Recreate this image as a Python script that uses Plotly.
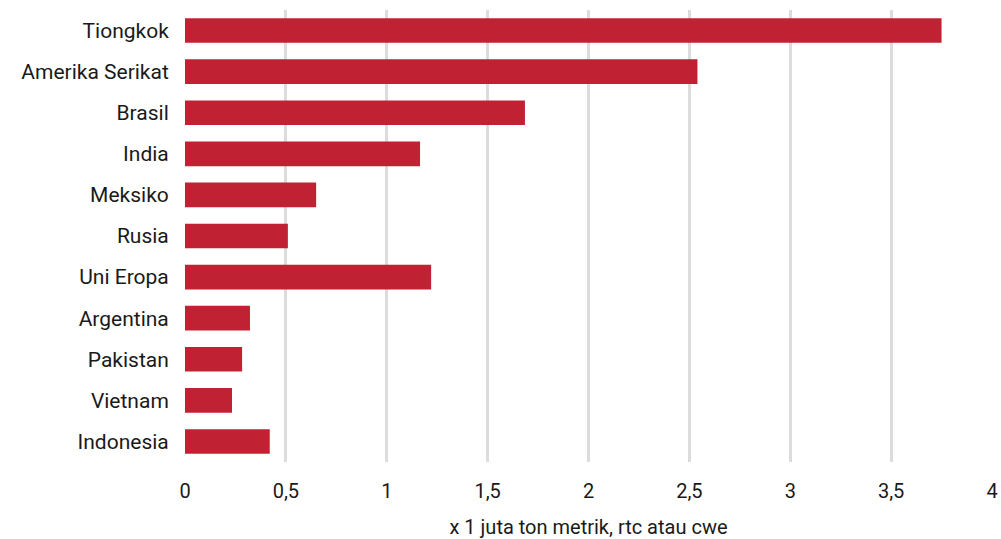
import plotly.graph_objects as go

countries = ["Tiongkok", "Amerika Serikat", "Brasil", "India", "Meksiko", "Rusia",
             "Uni Eropa", "Argentina", "Pakistan", "Vietnam", "Indonesia"]
values = [3.75, 2.54, 1.685, 1.165, 0.65, 0.51, 1.22, 0.322, 0.283, 0.233, 0.42]
x_title = "x 1 juta ton metrik, rtc atau cwe"

fig = go.Figure(go.Bar(
    x=values, y=countries, orientation="h",
    marker=dict(color="#C02233", line=dict(width=0)),
))
fig.update_layout(
    width=1001, height=539,
    margin=dict(l=185, r=9, t=10, b=77, autoexpand=False),
    plot_bgcolor="white", paper_bgcolor="white",
    separators=", ",
    bargap=0.4,
    showlegend=False,
    font=dict(family="Roboto", size=21, color="#1a1a1a"),
)
fig.update_xaxes(range=[0, 4], dtick=0.5, showgrid=True, gridcolor="#dcdcdc",
                 gridwidth=2.5, zeroline=False, showline=False,
                 ticks="outside", ticklen=11, tickcolor="rgba(0,0,0,0)",
                 tickfont=dict(size=20), automargin=False,
                 title=dict(text=x_title, font=dict(size=20), standoff=20))
fig.update_yaxes(autorange="reversed", showgrid=False, zeroline=False, showline=False,
                 ticks="outside", ticklen=11, tickcolor="rgba(0,0,0,0)",
                 tickfont=dict(size=21), automargin=False)
fig.write_html("out.html", config={"displayModeBar": False},
               post_script="document.body.style.margin='0';")
